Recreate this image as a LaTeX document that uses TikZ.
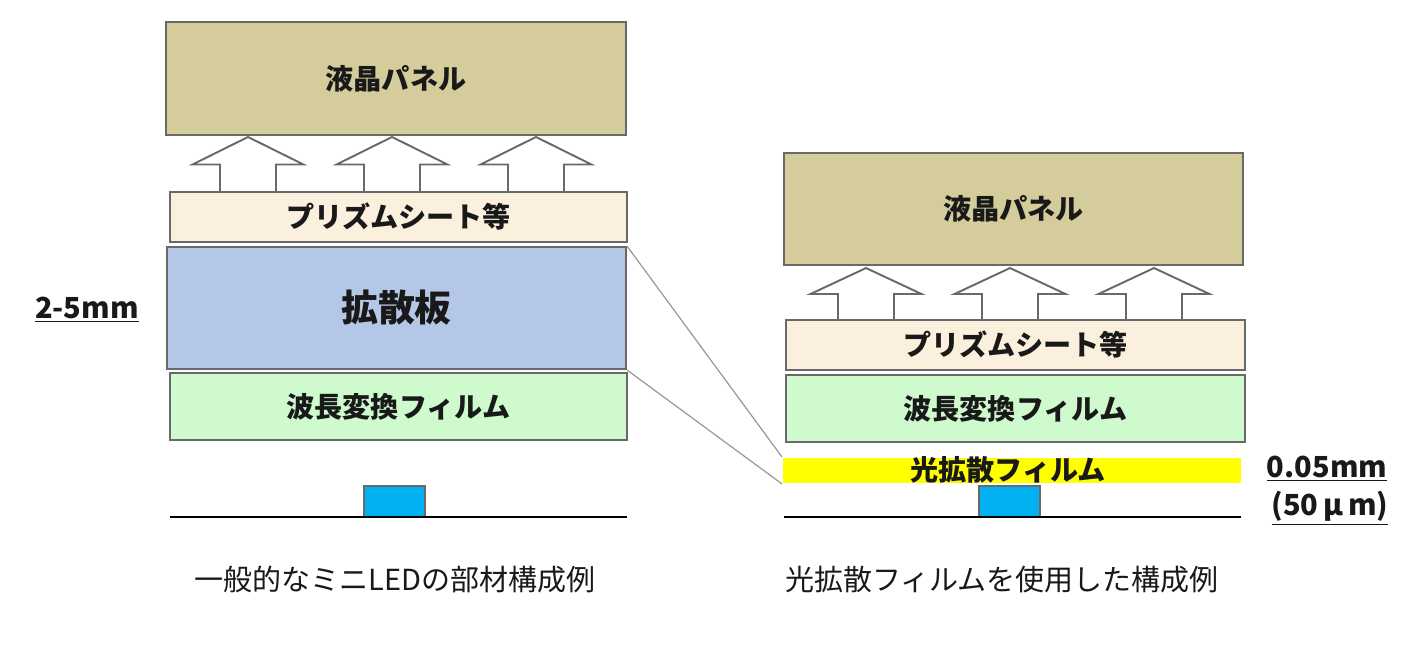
\documentclass[tikz,border=0pt]{standalone}
\usepackage{fontspec}
\setmainfont{Noto Sans CJK JP}
\usetikzlibrary{calc}
\definecolor{panelc}{RGB}{212,205,155}
\definecolor{prismc}{RGB}{251,239,222}
\definecolor{diffc}{RGB}{180,199,231}
\definecolor{wavec}{RGB}{206,250,206}
\definecolor{filmc}{RGB}{255,255,0}
\definecolor{ledc}{RGB}{0,176,240}
\definecolor{edgec}{RGB}{105,105,105}
\definecolor{txt}{RGB}{25,25,25}
\tikzset{
  layer/.style={draw=edgec, line width=1.1pt, inner sep=0pt, text=txt, font=\fontsize{16}{18}\selectfont\bfseries},
  led/.style={draw=edgec, line width=0.8pt, fill=ledc, minimum width=1.22cm, minimum height=0.62cm, inner sep=0pt},
  base/.style={draw=black, line width=1.2pt},
  link/.style={draw=gray!80, line width=0.7pt},
  arrowline/.style={draw=edgec, line width=1.1pt, fill=white},
  caption/.style={text=txt, font=\fontsize{16.5}{19}\selectfont},
  dim/.style={text=txt, font=\fontsize{16.5}{19}\selectfont\bfseries, inner sep=0pt},
  uparrow/.pic={\draw[arrowline] (-0.56,0) -- (-0.56,0.55) -- (-1.11,0.55) -- (0,1.1) -- (1.11,0.55) -- (0.56,0.55) -- (0.56,0);}
}
\begin{document}
\begin{tikzpicture}
\useasboundingbox (0,0) rectangle (28.3,-12.94);
% ---------- left ----------
\node[layer, fill=panelc, minimum width=9.2cm, minimum height=2.26cm] (panelL) at (7.92,-1.57) {液晶パネル};
\pic at (4.96,-3.84) {uparrow};
\pic at (7.84,-3.84) {uparrow};
\pic at (10.72,-3.84) {uparrow};
\node[layer, fill=prismc, minimum width=9.14cm, minimum height=1.0cm] (prismL) at (7.97,-4.34) {プリズムシート等};
\node[layer, fill=diffc, minimum width=9.18cm, minimum height=2.44cm, font=\fontsize{21}{24}\selectfont\bfseries] (diffL) at (7.93,-6.16) {拡散板};
\node[layer, fill=wavec, minimum width=9.14cm, minimum height=1.34cm] (waveL) at (7.97,-8.13) {波長変換フィルム};
\node[led] (ledL) at (7.89,-10.03) {};
\coordinate (bL1) at (3.4,-10.34);
\coordinate (bL2) at (12.54,-10.34);
\draw[base] (bL1) -- (bL2);
\node[dim] (dimL) at (1.74,-6.2) {\underline{2-5mm}};
\node[caption] (capL) at (7.9,-11.6) {一般的なミニLEDの部材構成例};
% ---------- right ----------
\node[layer, fill=panelc, minimum width=9.18cm, minimum height=2.24cm] (panelR) at (20.27,-4.18) {液晶パネル};
\pic[yscale=0.945] at (17.32,-6.4) {uparrow};
\pic[yscale=0.945] at (20.2,-6.4) {uparrow};
\pic[yscale=0.945] at (23.08,-6.4) {uparrow};
\node[layer, fill=prismc, minimum width=9.18cm, minimum height=1.0cm] (prismR) at (20.31,-6.9) {プリズムシート等};
\node[layer, fill=wavec, minimum width=9.18cm, minimum height=1.34cm] (waveR) at (20.31,-8.17) {波長変換フィルム};
\node[layer, draw=none, fill=filmc, minimum width=9.16cm, minimum height=0.5cm] (filmR) at (20.24,-9.41) {};
\node[layer, draw=none, inner sep=0pt] (filmT) at (20.16,-9.4) {光拡散フィルム};
\node[led] (ledR) at (20.19,-10.03) {};
\coordinate (bR1) at (15.68,-10.34);
\coordinate (bR2) at (24.82,-10.34);
\draw[base] (bR1) -- (bR2);
\node[dim] (dimR1) at (26.54,-9.38) {\underline{0.05mm}};
\node[dim] (dimR2) at (26.6,-10.16) {\underline{(50\,μ\,m)}};
\node[caption] (capR) at (20.04,-11.6) {光拡散フィルムを使用した構成例};
% ---------- links ----------
\draw[link] (diffL.north east) -- (filmR.north west);
\draw[link] (diffL.south east) -- (filmR.south west);
\end{tikzpicture}
\end{document}
